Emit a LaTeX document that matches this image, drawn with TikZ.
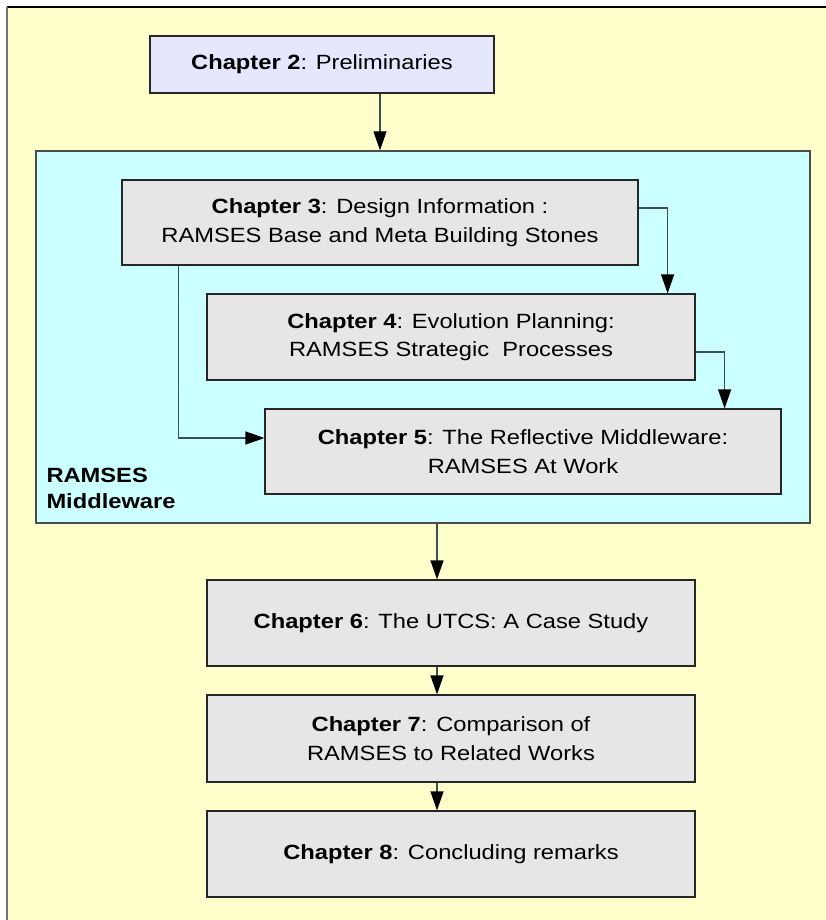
\documentclass[tikz,border=0pt]{standalone}
\usepackage{fontspec}
\setmainfont[FakeStretch=1.15]{Liberation Sans}
\usetikzlibrary{arrows.meta}

\definecolor{paper}{HTML}{FFFFCC}
\definecolor{mwfill}{HTML}{CCFFFF}
\definecolor{lavender}{HTML}{E6E6FF}
\definecolor{boxgray}{HTML}{E6E6E6}
\definecolor{edge}{HTML}{3A4F4F}

\tikzset{
  chapter/.style={draw=black!85, line width=1.2pt, fill=boxgray, align=center,
    inner sep=0pt, font=\fontsize{20.6}{28.5}\selectfont},
  region/.style={draw=black!70, line width=1.4pt, fill=mwfill, inner sep=0pt},
  flow/.style={draw=edge, line width=1.2pt,
    -{Triangle[length=19pt,width=13pt,fill=black,color=black]}},
}

\begin{document}
\begin{tikzpicture}[x=1pt,y=-1pt]
  \useasboundingbox (0,0) rectangle (826,920);
  % page background with its top and left rules
  \fill[white] (0,0) rectangle (826,920);
  \fill[paper] (7,7) rectangle (826,920);
  \draw[black, line width=1.3pt] (7,7) -- (826,7);
  \draw[black!55, line width=1.3pt] (7,7) -- (7,920);

  % chapter 2
  \node[chapter, fill=lavender, minimum width=344pt, minimum height=57pt]
    (ch2) at (322,64.5) {\textbf{Chapter 2}: Preliminaries};

  % middleware region
  \node[region, minimum width=774pt, minimum height=372pt] (mw) at (423,337) {};
  \node[anchor=south west, inner sep=0pt, align=left,
        font=\fontsize{20.6}{26}\selectfont\bfseries]
    (mwlabel) at ([shift={(11pt,15pt)}]mw.south west) {RAMSES\\Middleware};

  % chapters 3-5 inside the region
  \node[chapter, minimum width=516pt, minimum height=85pt] (ch3) at (380,222.5)
    {\textbf{Chapter 3}: Design Information :\\RAMSES Base and Meta Building Stones};
  \node[chapter, minimum width=488pt, minimum height=86pt] (ch4) at (451,337)
    {\textbf{Chapter 4}: Evolution Planning:\\RAMSES Strategic\ \ Processes};
  \node[chapter, minimum width=516pt, minimum height=85pt] (ch5) at (523,451.5)
    {\textbf{Chapter 5}: The Reflective Middleware:\\RAMSES At Work};

  % chapters 6-8
  \node[chapter, minimum width=488pt, minimum height=86pt] (ch6) at (451,623)
    {\textbf{Chapter 6}: The UTCS: A Case Study};
  \node[chapter, minimum width=488pt, minimum height=87pt] (ch7) at (451,738.5)
    {\textbf{Chapter 7}: Comparison of\\RAMSES to Related Works};
  \node[chapter, minimum width=488pt, minimum height=86pt] (ch8) at (451,854)
    {\textbf{Chapter 8}: Concluding remarks};

  % connectors
  \draw[flow] (ch2.south -| ch3.north) -- (mw.north -| ch3.north);
  \draw[flow] ([yshift=14.5pt]ch3.east) -| ([xshift=-28pt]ch4.north east);
  \draw[flow] ([yshift=-15pt]ch4.east) -| ([xshift=-57pt]ch5.north east);
  \draw[flow] ([xshift=57pt]ch3.south west) |- ([yshift=13.5pt]ch5.west);
  \draw[flow] ([xshift=-14pt]ch6.north |- mw.south) -- ([xshift=-14pt]ch6.north);
  \draw[flow] ([xshift=-14pt]ch6.south) -- ([xshift=-14pt]ch7.north);
  \draw[flow] ([xshift=-14pt]ch7.south) -- ([xshift=-14pt]ch8.north);
\end{tikzpicture}
\end{document}
